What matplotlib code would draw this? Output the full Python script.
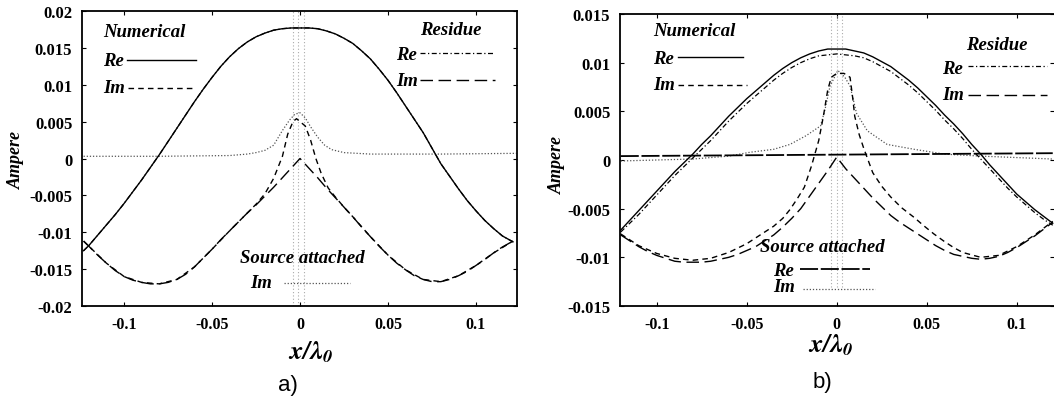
import matplotlib
matplotlib.use("Agg")
import matplotlib.pyplot as plt

plt.rcParams['font.family'] = ['Liberation Serif', 'DejaVu Serif']
plt.rcParams['mathtext.fontset'] = 'stix'

# ---------------- panel a ----------------
a_x = [-0.123, -0.12, -0.115, -0.11, -0.105, -0.10, -0.095, -0.09, -0.085, -0.08, -0.075, -0.07, -0.065,
       -0.06, -0.055, -0.05, -0.045, -0.04, -0.035, -0.03, -0.025, -0.02, -0.015, -0.01, -0.005, 0.0,
       0.005, 0.01, 0.015, 0.02, 0.025, 0.03, 0.035, 0.04, 0.045, 0.05, 0.055, 0.06, 0.065, 0.07,
       0.075, 0.08, 0.085, 0.09, 0.095, 0.10, 0.105, 0.11, 0.115, 0.121]
a_num_re = [-0.0125, -0.0118, -0.0104, -0.0090, -0.0076, -0.0061, -0.0045, -0.0029, -0.0012, 0.0005, 0.0023,
            0.0041, 0.0059, 0.0077, 0.0094, 0.0110, 0.0125, 0.0138, 0.0149, 0.0158, 0.0165, 0.0170, 0.0174,
            0.0176, 0.0177, 0.0177, 0.0177, 0.0176, 0.0173, 0.0169, 0.0163, 0.0156, 0.0146, 0.0135, 0.0121,
            0.0106, 0.0089, 0.0071, 0.0053, 0.0035, 0.0014, -0.0007, -0.0024, -0.0041, -0.0057, -0.0071,
            -0.0084, -0.0095, -0.0105, -0.0113]
a_res_re = a_num_re
a_res_im = [-0.0112, -0.0119, -0.0131, -0.0142, -0.0152, -0.0160, -0.0165, -0.0168, -0.0170, -0.0170, -0.0168,
            -0.0164, -0.0157, -0.0147, -0.0135, -0.0123, -0.0110, -0.0098, -0.0086, -0.0074, -0.0063, -0.0051,
            -0.0039, -0.0026, -0.0013, 0.0000, -0.0013, -0.0026, -0.0040, -0.0053, -0.0066, -0.0079, -0.0093,
            -0.0106, -0.0119, -0.0131, -0.0142, -0.0151, -0.0159, -0.0164, -0.0167, -0.0167, -0.0164, -0.0159,
            -0.0153, -0.0145, -0.0137, -0.0128, -0.0120, -0.0112]

a_num_im_x = [-0.123, -0.11, -0.10, -0.09, -0.08, -0.07, -0.06, -0.05, -0.04, -0.03, -0.025, -0.02, -0.015,
              -0.01, -0.007, -0.004, -0.002, 0.0, 0.003, 0.006, 0.009, 0.012, 0.016, 0.02, 0.025, 0.03, 0.04,
              0.05, 0.06, 0.07, 0.08, 0.09, 0.10, 0.11, 0.121]
a_num_im = [-0.0112, -0.0142, -0.0160, -0.0168, -0.0170, -0.0164, -0.0147, -0.0123, -0.0098, -0.0074, -0.0062,
            -0.0048, -0.0027, 0.0003, 0.0033, 0.0050, 0.0054, 0.0050, 0.0044, 0.0025, 0.0000, -0.0020, -0.0040,
            -0.0052, -0.0066, -0.0079, -0.0106, -0.0131, -0.0151, -0.0164, -0.0167, -0.0159, -0.0145, -0.0128,
            -0.0112]

a_src_x = [-0.123, -0.08, -0.04, -0.03, -0.025, -0.02, -0.015, -0.01, -0.006, -0.003, 0.0, 0.003, 0.006,
           0.01, 0.014, 0.018, 0.025, 0.04, 0.08, 0.123]
a_src_im = [0.0003, 0.0003, 0.0004, 0.0006, 0.0008, 0.0011, 0.0018, 0.0038, 0.0052, 0.0060, 0.0062, 0.0055,
            0.0043, 0.0029, 0.0018, 0.0012, 0.0008, 0.0006, 0.0006, 0.0007]
a_gray_x = [-0.004, -0.001, 0.002]

# ---------------- panel b ----------------
b_x = [-0.12, -0.115, -0.11, -0.105, -0.10, -0.095, -0.09, -0.085, -0.08, -0.075, -0.07, -0.065, -0.06,
       -0.055, -0.05, -0.045, -0.04, -0.035, -0.03, -0.025, -0.02, -0.015, -0.01, -0.005, 0.0, 0.005,
       0.01, 0.015, 0.02, 0.025, 0.03, 0.035, 0.04, 0.045, 0.05, 0.055, 0.06, 0.065, 0.07, 0.075, 0.08,
       0.085, 0.09, 0.095, 0.10, 0.105, 0.11, 0.115, 0.12]
b_num_re = [-0.0072, -0.0062, -0.0052, -0.0042, -0.0032, -0.0022, -0.0012, -0.0003, 0.0006, 0.0016, 0.0025,
            0.0035, 0.0045, 0.0054, 0.0063, 0.0071, 0.0079, 0.0087, 0.0094, 0.0100, 0.0105, 0.0109, 0.0112,
            0.0114, 0.0114, 0.0114, 0.0112, 0.0110, 0.0106, 0.0101, 0.0096, 0.0089, 0.0082, 0.0074, 0.0065,
            0.0056, 0.0046, 0.0037, 0.0027, 0.0016, 0.0006, -0.0005, -0.0015, -0.0025, -0.0035, -0.0043,
            -0.0051, -0.0058, -0.0065]
b_res_re = [-0.0074, -0.0065, -0.0056, -0.0046, -0.0036, -0.0026, -0.0016, -0.0007, 0.0002, 0.0011, 0.0020,
            0.0030, 0.0040, 0.0049, 0.0058, 0.0066, 0.0074, 0.0082, 0.0089, 0.0095, 0.0100, 0.0104, 0.0107,
            0.0108, 0.0109, 0.0108, 0.0107, 0.0105, 0.0101, 0.0096, 0.0091, 0.0084, 0.0077, 0.0069, 0.0060,
            0.0051, 0.0041, 0.0032, 0.0022, 0.0011, 0.0001, -0.0009, -0.0019, -0.0029, -0.0038, -0.0046,
            -0.0054, -0.0061, -0.0067]
b_res_im = [-0.0077, -0.0083, -0.0089, -0.0094, -0.0098, -0.0101, -0.0104, -0.0105, -0.0105, -0.0105, -0.0104,
            -0.0102, -0.0100, -0.0097, -0.0093, -0.0089, -0.0083, -0.0077, -0.0069, -0.0060, -0.0050, -0.0037,
            -0.0024, -0.0011, 0.0003, -0.0009, -0.0019, -0.0029, -0.0039, -0.0048, -0.0057, -0.0064, -0.0070,
            -0.0076, -0.0082, -0.0088, -0.0093, -0.0097, -0.0099, -0.0101, -0.0102, -0.0101, -0.0099, -0.0095,
            -0.0090, -0.0084, -0.0078, -0.0071, -0.0064]

b_num_im_x = [-0.12, -0.11, -0.10, -0.09, -0.08, -0.07, -0.06, -0.05, -0.045, -0.04, -0.035, -0.03, -0.026,
              -0.022, -0.018, -0.014, -0.012, -0.010, -0.0074, -0.005, -0.003, 0.0, 0.004, 0.0074, 0.009,
              0.010, 0.0125, 0.015, 0.020, 0.025, 0.030, 0.036, 0.043, 0.048, 0.054, 0.06, 0.065, 0.07, 0.08,
              0.09, 0.10, 0.11, 0.12]
b_num_im = [-0.0076, -0.0088, -0.0096, -0.0101, -0.0103, -0.0101, -0.0095, -0.0086, -0.0080, -0.0074, -0.0068,
            -0.0060, -0.0051, -0.0040, -0.0028, -0.0006, 0.0007, 0.0020, 0.0045, 0.0072, 0.0085, 0.0089, 0.0089,
            0.0085, 0.0062, 0.0045, 0.0026, 0.0012, -0.0013, -0.0027, -0.0038, -0.0049, -0.0059, -0.0067,
            -0.0076, -0.0084, -0.0090, -0.0095, -0.0100, -0.0098, -0.0089, -0.0077, -0.0063]

b_src_x = [-0.12, -0.08, -0.06, -0.048, -0.035, -0.026, -0.017, -0.009, -0.0065, -0.0037, 0.0006, 0.0045,
           0.0074, 0.011, 0.017, 0.028, 0.043, 0.06, 0.08, 0.12]
b_src_im = [-0.0001, 0.0001, 0.0004, 0.0008, 0.0011, 0.0016, 0.0025, 0.0035, 0.0052, 0.0076, 0.0092, 0.0085,
            0.0076, 0.0048, 0.0030, 0.0016, 0.0011, 0.0006, 0.0004, 0.0001]
b_src_re_x = [-0.12, 0.12]
b_src_re = [0.0004, 0.0007]
b_gray_x = [-0.003, 0.0, 0.003]

a_yticks = [0.02, 0.015, 0.01, 0.005, 0.0, -0.005, -0.01, -0.015, -0.02]
a_ylabels = ['0.02', '0.015', '0.01', '0.005', '0', '-0.005', '-0.01', '-0.015', '-0.02']
b_yticks = [0.015, 0.01, 0.005, 0.0, -0.005, -0.01, -0.015]
b_ylabels = ['0.015', '0.01', '0.005', '0', '-0.005', '-0.01', '-0.015']
xticks = [-0.1, -0.05, 0.0, 0.05, 0.1]
xlabels = ['-0.1', '-0.05', '0', '0.05', '0.1']

S_NUM_RE = dict(color='black', lw=1.0, ls='-')
S_NUM_IM = dict(color='black', lw=1.0, ls=(0, (4, 3)))
S_RES_RE = dict(color='black', lw=0.9, ls=(0, (4, 2, 1, 2)))
S_RES_IM = dict(color='black', lw=1.0, ls=(0, (9, 4)))
S_SRC_IM = dict(color='#555555', lw=0.9, ls=(0, (1, 1.5)))
S_SRC_RE = dict(color='black', lw=1.3, ls=(0, (10, 1.5)))
S_GRAY = dict(color='#aaaaaa', lw=0.8, ls=(0, (1, 2)))

lbl = dict(fontsize=13.5, fontweight='bold', style='italic')

fig = plt.figure(figsize=(10.54, 4.02), dpi=100)

ax1 = fig.add_axes([82 / 1054, 95 / 402, 435 / 1054, 295 / 402])
ax2 = fig.add_axes([620 / 1054, 95 / 402, 434 / 1054, 292 / 402])

# panel a curves
for gx in a_gray_x:
    ax1.axvline(gx, **S_GRAY)
ax1.plot(a_src_x, a_src_im, **S_SRC_IM)
ax1.plot(a_x, a_res_re, **S_RES_RE)
ax1.plot(a_x, a_num_re, **S_NUM_RE)
ax1.plot(a_x, a_res_im, **S_RES_IM)
ax1.plot(a_num_im_x, a_num_im, **S_NUM_IM)
ax1.set_xlim(-0.1239, 0.1233)
ax1.set_ylim(-0.02, 0.02)
ax1.set_yticks(a_yticks)
ax1.set_yticklabels(a_ylabels)

# panel b curves
for gx in b_gray_x:
    ax2.plot([gx, gx], [-0.013, 0.015], **S_GRAY)
ax2.plot(b_src_x, b_src_im, **S_SRC_IM)
ax2.plot(b_src_re_x, b_src_re, **S_SRC_RE)
ax2.plot(b_x, b_res_re, **S_RES_RE)
ax2.plot(b_x, b_num_re, **S_NUM_RE)
ax2.plot(b_x, b_res_im, **S_RES_IM)
ax2.plot(b_num_im_x, b_num_im, **S_NUM_IM)
ax2.set_xlim(-0.1204, 0.1207)
ax2.set_ylim(-0.015, 0.015)
ax2.set_yticks(b_yticks)
ax2.set_yticklabels(b_ylabels)
ax2.spines['right'].set_visible(False)

for ax in (ax1, ax2):
    ax.set_xticks(xticks)
    ax.set_xticklabels(xlabels)
    ax.tick_params(direction='in', length=3, width=0.8, pad=7, top=True, right=True)
    ax.tick_params(axis='y', labelsize=12)
    ax.tick_params(axis='x', labelsize=11.5)
    for lab in ax.get_xticklabels() + ax.get_yticklabels():
        lab.set_fontweight('bold')
    for sp in ax.spines.values():
        sp.set_linewidth(1.3)

# legend-like annotations, panel a
t = ax1.transAxes
ax1.text(0.048, 0.929, 'Numerical', transform=t, va='center', **lbl)
ax1.text(0.048, 0.831, 'Re', transform=t, va='center', **lbl)
ax1.plot([0.103, 0.262], [0.834, 0.834], transform=t, **S_NUM_RE)
ax1.text(0.048, 0.739, 'Im', transform=t, va='center', **lbl)
ax1.plot([0.106, 0.260], [0.739, 0.739], transform=t, **S_NUM_IM)
ax1.text(0.777, 0.936, 'Residue', transform=t, va='center', **lbl)
ax1.text(0.722, 0.851, 'Re', transform=t, va='center', **lbl)
ax1.plot([0.777, 0.949], [0.858, 0.858], transform=t, **S_RES_RE)
ax1.text(0.722, 0.766, 'Im', transform=t, va='center', **lbl)
ax1.plot([0.777, 0.949], [0.766, 0.766], transform=t, **S_RES_IM)
ax1.text(0.363, 0.166, 'Source attached', transform=t, va='center', **lbl)
ax1.text(0.386, 0.078, 'Im', transform=t, va='center', **lbl)
ax1.plot([0.464, 0.616], [0.078, 0.078], transform=t, **S_SRC_IM)

# legend-like annotations, panel b
t = ax2.transAxes
ax2.text(0.076, 0.942, 'Numerical', transform=t, va='center', **lbl)
ax2.text(0.076, 0.846, 'Re', transform=t, va='center', **lbl)
ax2.plot([0.134, 0.283], [0.853, 0.853], transform=t, **S_NUM_RE)
ax2.text(0.076, 0.757, 'Im', transform=t, va='center', **lbl)
ax2.plot([0.134, 0.293], [0.757, 0.757], transform=t, **S_NUM_IM)
ax2.text(0.797, 0.897, 'Residue', transform=t, va='center', **lbl)
ax2.text(0.742, 0.812, 'Re', transform=t, va='center', **lbl)
ax2.plot([0.802, 0.985], [0.822, 0.822], transform=t, **S_RES_RE)
ax2.text(0.742, 0.723, 'Im', transform=t, va='center', **lbl)
ax2.plot([0.802, 0.985], [0.723, 0.723], transform=t, **S_RES_IM)
ax2.text(0.323, 0.205, 'Source attached', transform=t, va='center', **lbl)
ax2.text(0.353, 0.123, 'Re', transform=t, va='center', **lbl)
ax2.plot([0.415, 0.576], [0.127, 0.127], transform=t, **S_SRC_RE)
ax2.text(0.353, 0.068, 'Im', transform=t, va='center', **lbl)
ax2.plot([0.422, 0.588], [0.058, 0.058], transform=t, **S_SRC_IM)

# axis labels and captions
ylab = dict(fontsize=13, fontweight='bold', style='italic', rotation=90, ha='center', va='center')
fig.text(16 / 1054, 1 - 160 / 402, 'Ampere', **ylab)
fig.text(557 / 1054, 1 - 165 / 402, 'Ampere', **ylab)
xl = r'$\mathbfit{x/\lambda_0}$'
fig.text(311 / 1054, 1 - 352 / 402, xl, ha='center', va='center', fontsize=19)
fig.text(831 / 1054, 1 - 345 / 402, xl, ha='center', va='center', fontsize=19)
fig.text(288 / 1054, 1 - 386 / 402, 'a)', ha='center', va='center', fontsize=16, family='Liberation Sans')
fig.text(822 / 1054, 1 - 383 / 402, 'b)', ha='center', va='center', fontsize=16, family='Liberation Sans')

fig.savefig('out.png', dpi=100)
